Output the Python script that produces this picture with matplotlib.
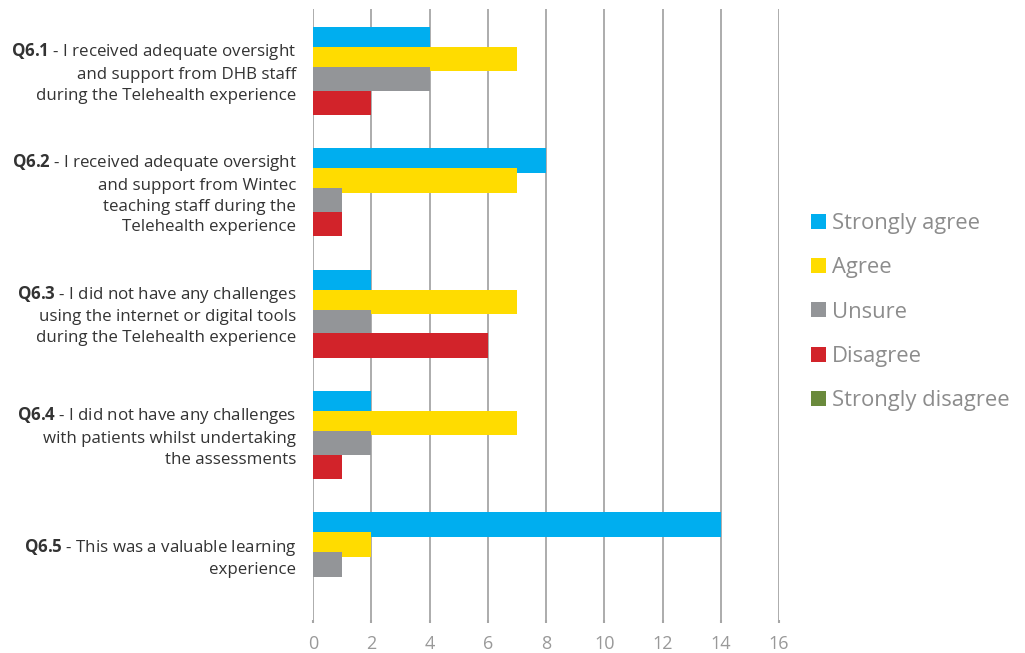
import matplotlib
matplotlib.use("Agg")
import matplotlib.pyplot as plt
import matplotlib.transforms as mtransforms
import numpy as np

plt.rcParams['font.family'] = ['Open Sans', 'DejaVu Sans']
plt.rcParams['mathtext.fontset'] = 'custom'
plt.rcParams['mathtext.rm'] = 'Open Sans'
plt.rcParams['mathtext.bf'] = 'Open Sans:bold'

# Survey data
questions = [
    r"$\mathbf{Q6.1}$ - I received adequate oversight" "\nand support from DHB staff\nduring the Telehealth experience",
    r"$\mathbf{Q6.2}$ - I received adequate oversight" "\nand support from Wintec\nteaching staff during the\nTelehealth experience",
    r"$\mathbf{Q6.3}$ - I did not have any challenges" "\nusing the internet or digital tools\nduring the Telehealth experience",
    r"$\mathbf{Q6.4}$ - I did not have any challenges" "\nwith patients whilst undertaking\nthe assessments",
    r"$\mathbf{Q6.5}$ - This was a valuable learning" "\nexperience",
]
series_names = ["Strongly agree", "Agree", "Unsure", "Disagree", "Strongly disagree"]
strongly_agree = [4, 8, 2, 2, 14]
agree = [7, 7, 7, 7, 2]
unsure = [4, 1, 2, 2, 1]
disagree = [2, 1, 6, 1, 0]
strongly_disagree = [0, 0, 0, 0, 0]
x_ticks = [0, 2, 4, 6, 8, 10, 12, 14, 16]

series_values = [strongly_agree, agree, unsure, disagree, strongly_disagree]
colors = ["#00AEEF", "#FFDC00", "#939598", "#D2232A", "#6A8A3C"]

fig = plt.figure(figsize=(10.25, 6.53), dpi=100)
ax = fig.add_axes([313 / 1025, 1 - 620 / 653, (779 - 313) / 1025, (620 - 9) / 653])

y = np.arange(len(questions))
bar_h = 0.2
# slightly overlapping clustered bars, later series drawn on top
centers = [-0.262, -0.097, 0.068, 0.262, 0.43]
for vals, off, col, name in zip(series_values, centers, colors, series_names):
    ax.barh(y + off, vals, height=bar_h, color=col, label=name, zorder=3,
            linewidth=0)

ax.set_xlim(0, 16)
ax.set_ylim(4.526, -0.511)
ax.set_xticks(x_ticks)
ax.set_xticklabels([str(t) for t in x_ticks], fontsize=13, color="#999999")
ax.tick_params(axis='x', length=2.5, width=1.5, color="#A6A6A6", pad=8.5)
ax.set_yticks(y)
ax.set_yticklabels(questions, fontsize=12.2, color="#333333", linespacing=1.4,
                   multialignment='right')
ax.tick_params(axis='y', length=0, pad=12)
lift = mtransforms.ScaledTranslation(0, 3 / 100, fig.dpi_scale_trans)
for lbl in ax.get_yticklabels():
    lbl.set_transform(lbl.get_transform() + lift)
ax.grid(axis='x', color="#A6A6A6", linewidth=1.3, zorder=0)
ax.set_axisbelow(True)
for s in ax.spines.values():
    s.set_visible(False)

leg = fig.legend(loc='upper left', bbox_to_anchor=(811 / 1025, 1 - 213 / 653),
                 frameon=False, fontsize=15.8, handlelength=0.68, handleheight=0.68,
                 handletextpad=0.27, labelspacing=1.06, borderaxespad=0, borderpad=0)
for t in leg.get_texts():
    t.set_color("#8C8C8C")

fig.savefig("out.png", dpi=100)
